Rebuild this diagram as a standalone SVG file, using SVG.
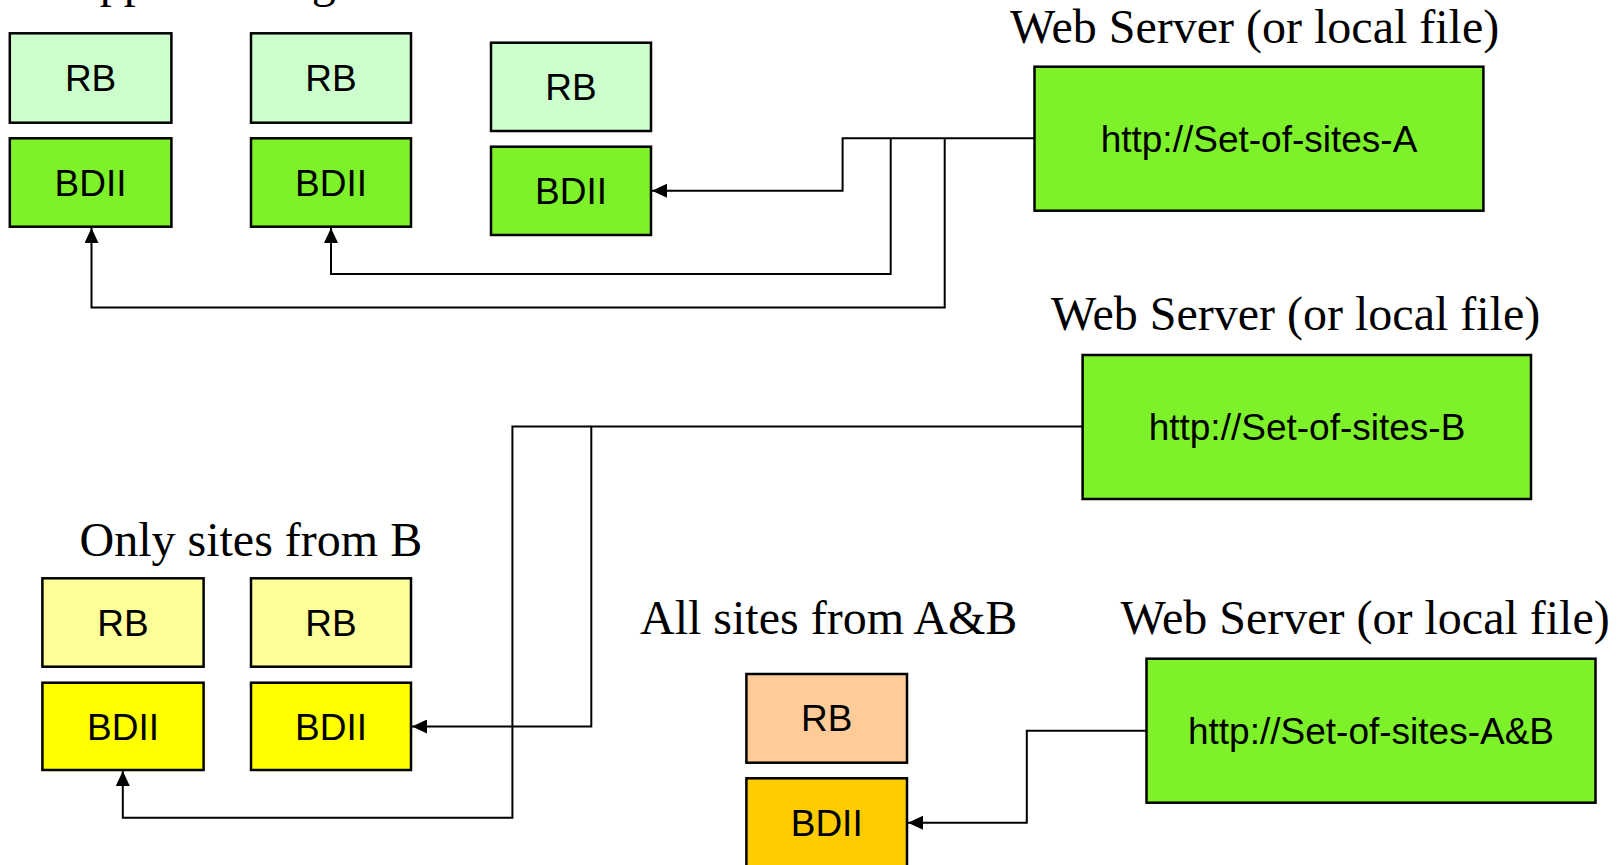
<svg xmlns="http://www.w3.org/2000/svg" width="1620" height="865" viewBox="0 0 1620 865">
<style>
.box{stroke:#000;stroke-width:2.5}
.rbA{fill:#CCFFCC}
.grn{fill:#7DF22B}
.rbB{fill:#FFFF99}
.bdB{fill:#FFFF00}
.rbC{fill:#FFCC99}
.bdC{fill:#FFCC00}
.lbl{font-family:"Liberation Sans",Arial,sans-serif;font-size:37px;fill:#000;text-anchor:middle}
.ttl{font-family:"Liberation Serif","Times New Roman",serif;font-size:48px;fill:#000}
.con{fill:none;stroke:#000;stroke-width:2}
</style>
<defs>
<marker id="arr" markerUnits="userSpaceOnUse" markerWidth="16" markerHeight="14" refX="15" refY="7" orient="auto">
<path d="M0,0 L15,7 L0,14 Z" fill="#000"/>
</marker>
</defs>
<rect width="1620" height="865" fill="#fff"/>
<text class="ttl" x="49" y="-3.5">Supported Region</text>
<text class="ttl" x="1010" y="43">Web Server (or local file)</text>
<text class="ttl" x="1051" y="330">Web Server (or local file)</text>
<text class="ttl" x="79.5" y="556">Only sites from B</text>
<text class="ttl" x="640" y="634">All sites from A&amp;B</text>
<text class="ttl" x="1120.5" y="634">Web Server (or local file)</text>

<g id="connectors">
<path class="con" marker-end="url(#arr)" d="M1034.5,138.3 H842.6 V190.7 H652"/>
<path class="con" marker-end="url(#arr)" d="M890.7,138.3 V274 H331 V228"/>
<path class="con" marker-end="url(#arr)" d="M944.7,138.3 V307.5 H91.5 V228"/>
<path class="con" marker-end="url(#arr)" d="M1082.6,426.5 H591.3 V726.5 H412"/>
<path class="con" marker-end="url(#arr)" d="M591.3,426.5 H512.4 V817.7 H122.8 V771"/>
<path class="con" marker-end="url(#arr)" d="M1146.5,730.7 H1026.8 V822.7 H908"/>
</g>

<g id="rbA1"><rect class="box rbA" x="9.8" y="33.3" width="161.6" height="89.4"/><text class="lbl" x="90.6" y="91">RB</text></g>
<g id="bdiiA1"><rect class="box grn" x="9.8" y="138.3" width="161.6" height="88.4"/><text class="lbl" x="90.6" y="195.5">BDII</text></g>
<g id="rbA2"><rect class="box rbA" x="251" y="33.3" width="160" height="89.4"/><text class="lbl" x="331" y="91">RB</text></g>
<g id="bdiiA2"><rect class="box grn" x="251" y="138.3" width="160" height="88.4"/><text class="lbl" x="331" y="195.5">BDII</text></g>
<g id="rbA3"><rect class="box rbA" x="491" y="42.7" width="160" height="88.3"/><text class="lbl" x="571" y="100">RB</text></g>
<g id="bdiiA3"><rect class="box grn" x="491" y="146.7" width="160" height="88.3"/><text class="lbl" x="571" y="204">BDII</text></g>

<g id="serverA"><rect class="box grn" x="1034.5" y="66.7" width="448.9" height="144"/><text class="lbl" x="1259" y="151.5">http://Set-of-sites-A</text></g>
<g id="serverB"><rect class="box grn" x="1082.6" y="355" width="448.4" height="144"/><text class="lbl" x="1307" y="440">http://Set-of-sites-B</text></g>

<g id="rbB1"><rect class="box rbB" x="42.4" y="578.3" width="161.2" height="88.4"/><text class="lbl" x="123" y="635.5">RB</text></g>
<g id="bdiiB1"><rect class="box bdB" x="42.4" y="682.7" width="161.2" height="87.3"/><text class="lbl" x="123" y="739.5">BDII</text></g>
<g id="rbB2"><rect class="box rbB" x="251" y="578.3" width="160" height="88.4"/><text class="lbl" x="331" y="635.5">RB</text></g>
<g id="bdiiB2"><rect class="box bdB" x="251" y="682.7" width="160" height="87.3"/><text class="lbl" x="331" y="739.5">BDII</text></g>

<g id="rbC"><rect class="box rbC" x="746.4" y="674" width="160.6" height="88.7"/><text class="lbl" x="826.7" y="731">RB</text></g>
<g id="bdiiC"><rect class="box bdC" x="746.4" y="778.3" width="160.6" height="89"/><text class="lbl" x="826.7" y="836">BDII</text></g>

<g id="serverAB"><rect class="box grn" x="1146.5" y="658.7" width="449" height="144"/><text class="lbl" x="1371" y="744">http://Set-of-sites-A&amp;B</text></g>
</svg>
